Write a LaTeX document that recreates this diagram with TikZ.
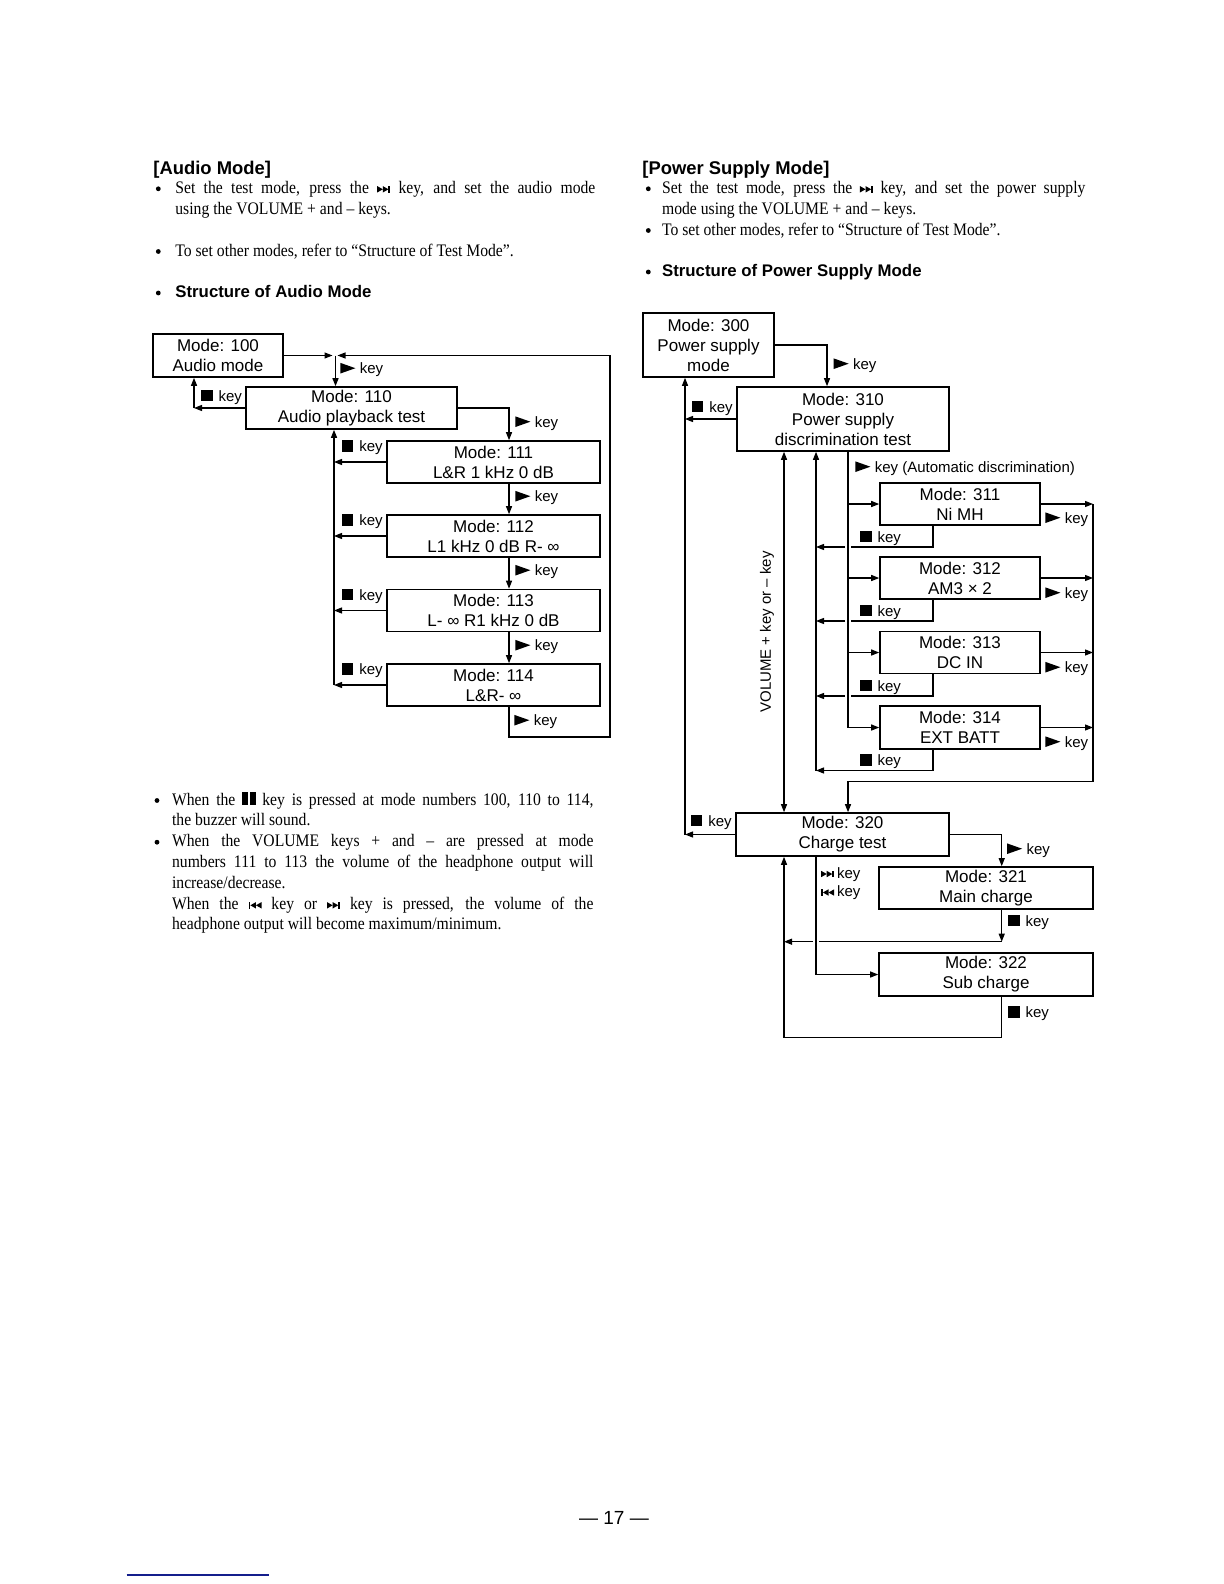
\documentclass[tikz,border=0pt]{standalone}
\usepackage{fontspec}
\setmainfont{Liberation Serif}
\setsansfont{Liberation Sans}
\newfontfamily\bodyfont{Liberation Serif}[FakeStretch=0.89]
\usetikzlibrary{arrows.meta}

\newcommand{\trisym}{\tikz[baseline=0pt]\fill (0pt,0pt) -- (0pt,5.3pt) -- (7.5pt,2.65pt) -- cycle;}
\newcommand{\sqsym}{\tikz[baseline=0pt]\fill (0pt,0pt) rectangle (5.6pt,5.6pt);}
\newcommand{\nextsym}{\tikz[baseline=0pt]{\fill (0pt,0.4pt) -- (0pt,3.6pt) -- (2.8pt,2pt) -- cycle; \fill (2.8pt,0.4pt) -- (2.8pt,3.6pt) -- (5.6pt,2pt) -- cycle; \fill (5.6pt,0.4pt) rectangle (6.5pt,3.6pt);}}
\newcommand{\prevsym}{\tikz[baseline=0pt]{\fill (0pt,0.4pt) rectangle (0.9pt,3.6pt); \fill (3.7pt,0.4pt) -- (3.7pt,3.6pt) -- (0.9pt,2pt) -- cycle; \fill (6.5pt,0.4pt) -- (6.5pt,3.6pt) -- (3.7pt,2pt) -- cycle;}}
\newcommand{\pausesym}{\tikz[baseline=0pt]{\fill (0pt,0pt) rectangle (2.9pt,6.3pt); \fill (3.8pt,0pt) rectangle (6.7pt,6.3pt);}}
\newcommand{\pk}{\trisym\hspace{2.2pt}key}
\newcommand{\sk}{\sqsym\hspace{3pt}key}

\tikzset{
  box/.style={draw, line width=0.8pt, rectangle, inner sep=0pt, align=center,
    font=\sffamily\fontsize{8.5}{10}\selectfont},
  lbl/.style={anchor=base west, inner sep=0pt, font=\sffamily\fontsize{7.5}{9}\selectfont},
  conn/.style={line width=0.6pt},
  arr/.style={conn, -{Triangle[length=4pt,width=3pt]}},
  arrb/.style={conn, {Triangle[length=4pt,width=3pt]}-{Triangle[length=4pt,width=3pt]}},
  txt/.style={anchor=base west, inner sep=0pt, font=\bodyfont\fontsize{8.8}{10.5}\selectfont},
  dot/.style={circle, fill, inner sep=0pt, minimum size=2.4pt},
  head/.style={anchor=base west, inner sep=0pt, font=\sffamily\bfseries\fontsize{9.2}{11}\selectfont},
  subhead/.style={anchor=base west, inner sep=0pt, font=\sffamily\bfseries\fontsize{8.4}{10}\selectfont},
}

\begin{document}
\begin{tikzpicture}[x=0.5pt, y=-0.5pt]
\useasboundingbox (0,0) rectangle (1224,1584);
\fill[white] (0,0) rectangle (1224,1584);

% ---------------- Left column text ----------------
\node[head] (hA) at (153,174.3) {[Audio Mode]};
\node[dot] (bA1) at (158.3,188.8) {};
\node[txt] (tA1) at (175,193.3) {\makebox[210pt][s]{Set the test mode, press the \nextsym{} key, and set the audio mode}};
\node[txt] (tA2) at (175,214.3) {using the VOLUME + and – keys.};
\node[dot] (bA2) at (158.3,251.5) {};
\node[txt] (tA3) at (175,256) {To set other modes, refer to “Structure of Test Mode”.};
\node[dot] (bA3) at (158.3,293) {};
\node[subhead] (sA) at (175,297.7) {Structure of Audio Mode};

% ---------------- Right column text ----------------
\node[head] (hP) at (642,174.3) {[Power Supply Mode]};
\node[dot] (bP1) at (648.3,188.8) {};
\node[txt] (tP1) at (661.7,193.3) {\makebox[211.7pt][s]{Set the test mode, press the \nextsym{} key, and set the power supply}};
\node[txt] (tP2) at (661.7,214.3) {mode using the VOLUME + and – keys.};
\node[dot] (bP2) at (648.3,230.5) {};
\node[txt] (tP3) at (661.7,235) {To set other modes, refer to “Structure of Test Mode”.};
\node[dot] (bP3) at (648.3,272) {};
\node[subhead] (sP) at (661.7,276.7) {Structure of Power Supply Mode};

% ---------------- Bottom-left notes ----------------
\node[dot] (bN1) at (157,800.5) {};
\node[txt] (n1) at (171.7,805) {\makebox[210.7pt][s]{When the \pausesym{} key is pressed at mode numbers 100, 110 to 114,}};
\node[txt] (n2) at (171.7,825.7) {the buzzer will sound.};
\node[dot] (bN2) at (157,842.2) {};
\node[txt] (n3) at (171.7,846.7) {\makebox[210.7pt][s]{When the VOLUME keys + and – are pressed at mode}};
\node[txt] (n4) at (171.7,867.3) {\makebox[210.7pt][s]{numbers 111 to 113 the volume of the headphone output will}};
\node[txt] (n5) at (171.7,888.3) {increase/decrease.};
\node[txt] (n6) at (171.7,909.3) {\makebox[210.7pt][s]{When the \prevsym{} key or \nextsym{} key is pressed, the volume of the}};
\node[txt] (n7) at (171.7,929.3) {headphone output will become maximum/minimum.};

% ---------------- Audio diagram ----------------
\node[box, minimum width=65pt, minimum height=21.5pt] (b100) at (218,355.5) {Mode: 100\\Audio mode};
\node[box, minimum width=105.5pt, minimum height=21pt] (b110) at (351.5,408) {Mode: 110\\Audio playback test};
\node[box, minimum width=106.5pt, minimum height=21pt] (b111) at (493.5,462) {Mode: 111\\L\&R 1 kHz 0 dB};
\node[box, minimum width=106.5pt, minimum height=21pt] (b112) at (493.5,536) {Mode: 112\\L1 kHz 0 dB R- ∞};
\node[box, minimum width=106.5pt, minimum height=21pt] (b113) at (493.5,610.5) {Mode: 113\\L- ∞ R1 kHz 0 dB};
\node[box, minimum width=106.5pt, minimum height=21pt] (b114) at (493.5,685) {Mode: 114\\L\&R- ∞};

\coordinate (j1) at (335.5,355.5);
\coordinate (x509) at (509,0);
\coordinate (x334) at (334,0);
\coordinate (c194) at (194,408);
\coordinate (r610) at (610,355.5);

\draw[arr] (b100.east) -- (332.5,355.5);
\draw[arr] (j1) -- (b110.north -| j1);
\draw[arr] (b110.east) -| (b111.north -| x509);
\draw[arr] (b111.south -| x509) -- (b112.north -| x509);
\draw[arr] (b112.south -| x509) -- (b113.north -| x509);
\draw[arr] (b113.south -| x509) -- (b114.north -| x509);
\draw[arr] (b114.south -| x509) -- (509,737) -- (610,737) -- (r610) -- (337.5,355.5);
\draw[arr] (b110.west) -- (c194);
\draw[arr] (c194) -- (b100.south -| c194);
\draw[arr] (b111.west) -- (b111.west -| x334);
\draw[arr] (b112.west) -- (b112.west -| x334);
\draw[arr] (b113.west) -- (b113.west -| x334);
\draw[arr] (b114.west) -- (b114.west -| x334);
\draw[arr] (b114.west -| x334) -- (b110.south -| x334);

\node[lbl] (la1) at (340,373.5) {\pk};
\node[lbl] (la2) at (201,401) {\sk};
\node[lbl] (la3) at (515,427) {\pk};
\node[lbl] (la4) at (515,501.5) {\pk};
\node[lbl] (la5) at (515,575.5) {\pk};
\node[lbl] (la6) at (515,650.5) {\pk};
\node[lbl] (la7) at (514,725.5) {\pk};
\node[lbl] (ls1) at (341.7,451.5) {\sk};
\node[lbl] (ls2) at (341.7,525.5) {\sk};
\node[lbl] (ls3) at (341.7,600) {\sk};
\node[lbl] (ls4) at (341.7,674.5) {\sk};

% ---------------- Power supply diagram ----------------
\node[box, minimum width=65.5pt, minimum height=32pt] (b300) at (708.5,345) {Mode: 300\\Power supply\\mode};
\node[box, minimum width=106pt, minimum height=32pt] (b310) at (843,419) {Mode: 310\\Power supply\\discrimination test};
\node[box, minimum width=80pt, minimum height=21pt] (b311) at (960,504) {Mode: 311\\Ni MH};
\node[box, minimum width=80pt, minimum height=21pt] (b312) at (960,578) {Mode: 312\\AM3 × 2};
\node[box, minimum width=80pt, minimum height=21pt] (b313) at (960,652.5) {Mode: 313\\DC IN};
\node[box, minimum width=80pt, minimum height=21.5pt] (b314) at (960,727.5) {Mode: 314\\EXT BATT};
\node[box, minimum width=106.5pt, minimum height=21.5pt] (b320) at (842.5,834.5) {Mode: 320\\Charge test};
\node[box, minimum width=107pt, minimum height=21pt] (b321) at (986,888) {Mode: 321\\Main charge};
\node[box, minimum width=107pt, minimum height=21.5pt] (b322) at (986,974.5) {Mode: 322\\Sub charge};

\coordinate (x827) at (827,0);
\coordinate (x685) at (685,0);
\coordinate (x933) at (933,0);
\coordinate (x848) at (848,0);
\coordinate (x816) at (816,0);
\coordinate (x784) at (784,0);
\coordinate (x1093) at (1093,0);
\coordinate (x1002) at (1001.7,0);

\draw[arr] (b300.east) -| (b310.north -| x827);
\draw[arr] (b310.west) -- (b310.west -| x685);
\draw[arr] (b320.west) -- (b320.west -| x685);
\draw[arr] (b320.west -| x685) -- (b300.south -| x685);

% stop-key returns from 311..314 (with crossing gaps)
\draw[conn] (b311.south -| x933) -- (933,547) -- (851,547);
\draw[arr] (845,547) -- (816,547);
\draw[conn] (b312.south -| x933) -- (933,621) -- (851,621);
\draw[arr] (845,621) -- (816,621);
\draw[conn] (b313.south -| x933) -- (933,696) -- (851,696);
\draw[arr] (845,696) -- (816,696);
\draw[arr] (b314.south -| x933) -- (933,770.5) -- (816,770.5);
\draw[arr] (816,770.5) -- (b310.south -| x816);

% volume line
\draw[arrb] (b310.south -| x784) -- (b320.north -| x784);
\node[rotate=90, inner sep=0pt, font=\sffamily\fontsize{7.5}{9}\selectfont] (vol) at (767,632) {VOLUME + key or – key};

% automatic discrimination branches
\draw[conn] (b310.south -| x848) -- (848,727.5);
\draw[arr] (b311.west -| x848) -- (b311.west);
\draw[arr] (b312.west -| x848) -- (b312.west);
\draw[arr] (b313.west -| x848) -- (b313.west);
\draw[arr] (b314.west -| x848) -- (b314.west);

\draw[arr] (b311.east) -- (b311.east -| x1093);
\draw[arr] (b312.east) -- (b312.east -| x1093);
\draw[arr] (b313.east) -- (b313.east -| x1093);
\draw[arr] (b314.east) -- (b314.east -| x1093);
\draw[arr] (b311.east -| x1093) -- (1093,781.7) -- (848,781.7) -- (b320.north -| x848);

% charge test
\draw[arr] (b320.east) -| (b321.north -| x1002);
\draw[arr] (b321.south -| x1002) -- (1001.7,941.7);
\draw[conn] (1001.7,941.7) -- (819,941.7);
\draw[arr] (813,941.7) -- (784,941.7);
\draw[arr] (b320.south -| x816) |- (b322.west);
\draw[conn] (b322.south -| x1002) -- (1001.7,1037.7) -- (784,1037.7);
\draw[arr] (784,1037.7) -- (b320.south -| x784);

\node[lbl] (lp1) at (833.3,369) {\pk};
\node[lbl] (lp2) at (691.7,412) {\sk};
\node[lbl] (lp3) at (855,472) {\pk{} (Automatic discrimination)};
\node[lbl] (lp4) at (1045,523) {\pk};
\node[lbl] (lp5) at (1045,598) {\pk};
\node[lbl] (lp6) at (1045,672.5) {\pk};
\node[lbl] (lp7) at (1045,747) {\pk};
\node[lbl] (lq1) at (860,542) {\sk};
\node[lbl] (lq2) at (860,616) {\sk};
\node[lbl] (lq3) at (860,691) {\sk};
\node[lbl] (lq4) at (860,765.5) {\sk};
\node[lbl] (lp8) at (690.7,826) {\sk};
\node[lbl] (lp9) at (1006.7,854) {\pk};
\node[lbl] (lp10) at (820.7,878) {\nextsym\hspace{1.5pt}key};
\node[lbl] (lp11) at (820.7,896.5) {\prevsym\hspace{1.5pt}key};
\node[lbl] (lp12) at (1008,926) {\sk};
\node[lbl] (lp13) at (1008,1017.5) {\sk};

% ---------------- page number and margin mark ----------------
\node[anchor=base, inner sep=0pt, font=\sffamily\fontsize{9.5}{11}\selectfont] (pg) at (614,1524.3) {— 17 —};
\draw[line width=0.7pt, color={rgb,255:red,20;green,30;blue,140}] (126.7,1575) -- (269,1575);
\end{tikzpicture}
\end{document}
